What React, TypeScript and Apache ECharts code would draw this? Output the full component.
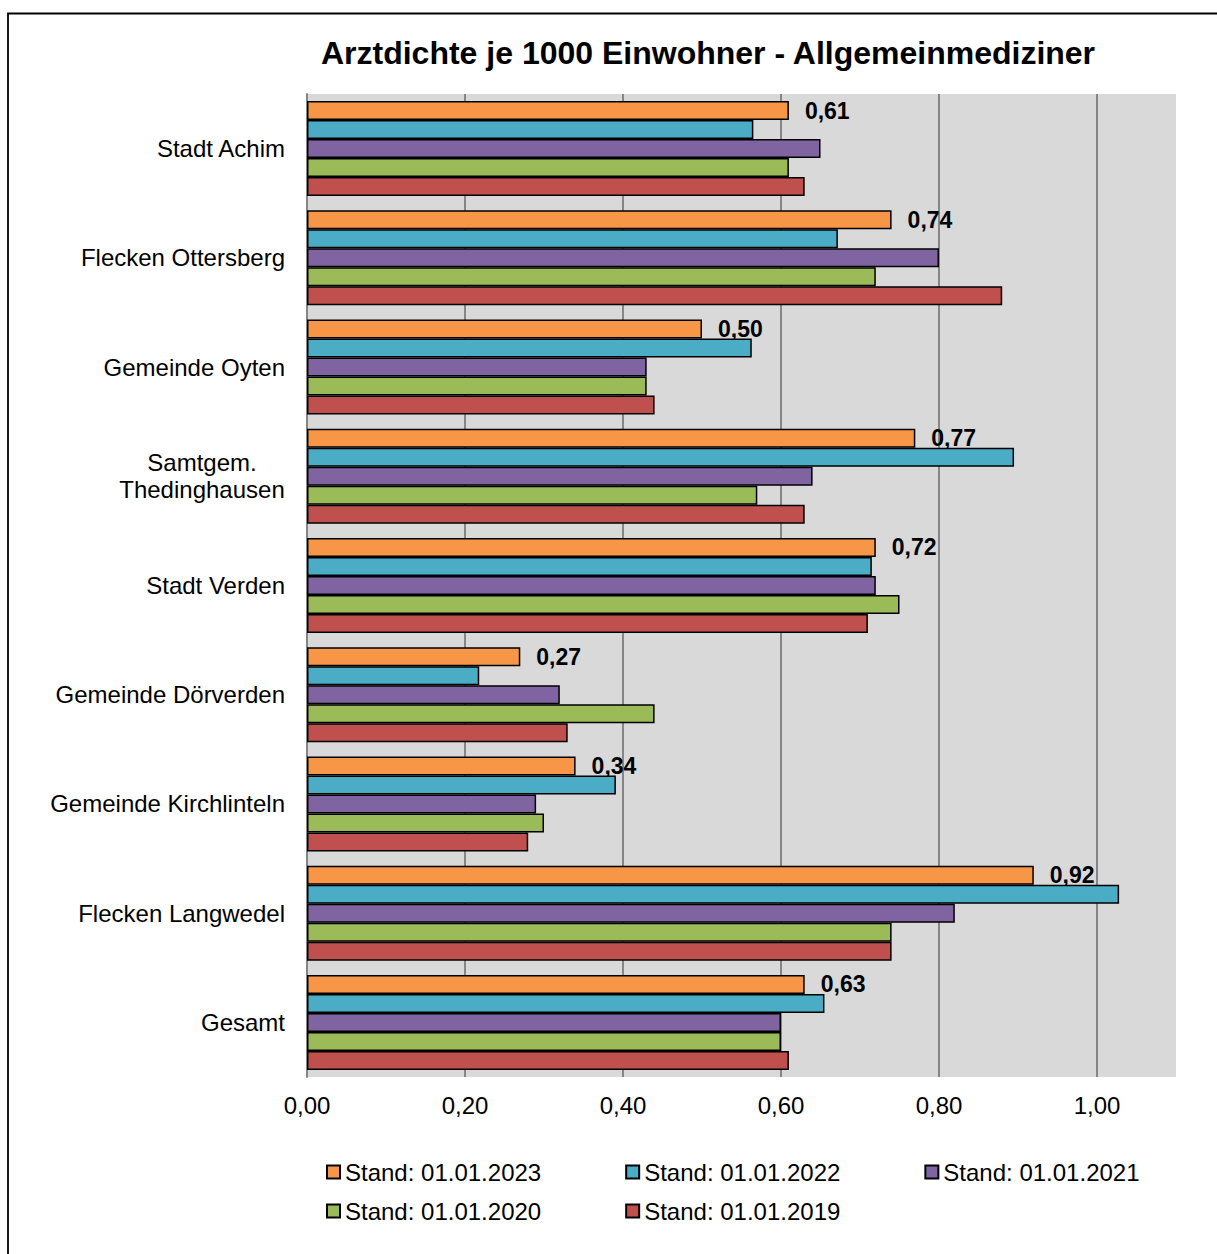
import React, { useEffect, useRef } from "react";
import * as echarts from "echarts";

const categories = [
  "Stadt Achim",
  "Flecken Ottersberg",
  "Gemeinde Oyten",
  "Samtgem.\nThedinghausen",
  "Stadt Verden",
  "Gemeinde Dörverden",
  "Gemeinde Kirchlinteln",
  "Flecken Langwedel",
  "Gesamt",
];

const seriesNames = [
  "Stand: 01.01.2023",
  "Stand: 01.01.2022",
  "Stand: 01.01.2021",
  "Stand: 01.01.2020",
  "Stand: 01.01.2019",
];

const values2023 = [0.61, 0.74, 0.5, 0.77, 0.72, 0.27, 0.34, 0.92, 0.63];
const values2022 = [0.565, 0.672, 0.563, 0.895, 0.715, 0.218, 0.391, 1.028, 0.655];
const values2021 = [0.65, 0.8, 0.43, 0.64, 0.72, 0.32, 0.29, 0.82, 0.6];
const values2020 = [0.61, 0.72, 0.43, 0.57, 0.75, 0.44, 0.3, 0.74, 0.6];
const values2019 = [0.63, 0.88, 0.44, 0.63, 0.71, 0.33, 0.28, 0.74, 0.61];

const xTicks = [0, 0.2, 0.4, 0.6, 0.8, 1.0];

const colors = ["#f79646", "#4bacc6", "#8064a2", "#9bbb59", "#c0504d"];

const FONT = "'Liberation Sans', Arial, sans-serif";

const fmt = (v: number) => v.toFixed(2).replace(".", ",");

export default function App() {
  const ref = useRef<HTMLDivElement>(null);

  useEffect(() => {
    if (!ref.current) return;
    const chart = echarts.init(ref.current, null, { renderer: "svg" });
    const allValues = [values2023, values2022, values2021, values2020, values2019];

    const legendBase = {
      left: 326,
      padding: 0,
      itemGap: 84,
      itemWidth: 13,
      itemHeight: 13,
      icon: "rect",
      textStyle: { fontFamily: FONT, fontSize: 24, color: "#000", lineHeight: 24 },
    };

    const option: any = {
      animation: false,
      backgroundColor: "#ffffff",
      title: {
        text: "Arztdichte je 1000 Einwohner - Allgemeinmediziner",
        left: 703,
        textAlign: "center",
        top: 32,
        textStyle: {
          fontFamily: FONT,
          fontSize: 32,
          fontWeight: "bold",
          color: "#000",
        },
      },
      graphic: [
        {
          type: "rect",
          shape: { x: 8, y: 13.5, width: 1300, height: 1300 },
          style: { fill: "none", stroke: "#000", lineWidth: 1.8 },
          silent: true,
          z: 100,
        },
      ],
      legend: [
        { ...legendBase, data: seriesNames.slice(0, 3), top: 1160 },
        { ...legendBase, data: seriesNames.slice(3), top: 1199 },
      ],
      grid: {
        left: 307,
        top: 94,
        width: 869,
        height: 983,
        show: true,
        backgroundColor: "#d9d9d9",
        borderWidth: 0,
        containLabel: false,
      },
      xAxis: {
        type: "value",
        min: 0,
        max: 1.1,
        interval: 0.2,
        axisLine: { show: false },
        axisTick: { show: false },
        splitLine: {
          show: true,
          showMaxLine: false,
          lineStyle: { color: "#868686", width: 2 },
        },
        axisLabel: {
          fontFamily: FONT,
          fontSize: 24,
          color: "#000",
          margin: 16,
          showMaxLabel: false,
          formatter: (v: number) => (xTicks.some((t) => Math.abs(t - v) < 1e-9) ? fmt(v) : ""),
        },
      },
      yAxis: {
        type: "category",
        data: categories,
        inverse: true,
        axisLine: { show: true, lineStyle: { color: "#868686", width: 2 } },
        axisTick: { show: false },
        axisLabel: {
          fontFamily: FONT,
          fontSize: 24,
          color: "#000",
          margin: 22,
          align: "right",
          lineHeight: 27,
          formatter: (v: string) => {
            if (v.indexOf("\n") >= 0) {
              return v
                .split("\n")
                .map((l) => "{c|" + l + "}")
                .join("\n");
            }
            return v;
          },
          rich: {
            c: {
              width: 166,
              align: "center",
              fontFamily: FONT,
              fontSize: 24,
              lineHeight: 27,
              color: "#000",
            },
          },
        },
      },
      series: seriesNames.map((name, i) => ({
        name,
        type: "bar",
        data: allValues[i],
        barGap: "0%",
        barCategoryGap: "13%",
        itemStyle: {
          color: colors[i],
          borderColor: "#000",
          borderWidth: 1.5,
        },
        label:
          i === 0
            ? {
                show: true,
                position: "right",
                distance: 16,
                fontFamily: FONT,
                fontSize: 23,
                fontWeight: "bold",
                color: "#000",
                formatter: (p: any) => fmt(p.value),
              }
            : { show: false },
        z: 2 + i,
      })),
    };

    chart.setOption(option);
    return () => chart.dispose();
  }, []);

  return (
    <div
      ref={ref}
      style={{ position: "fixed", left: 0, top: 0, width: 1217, height: 1254 }}
    />
  );
}
